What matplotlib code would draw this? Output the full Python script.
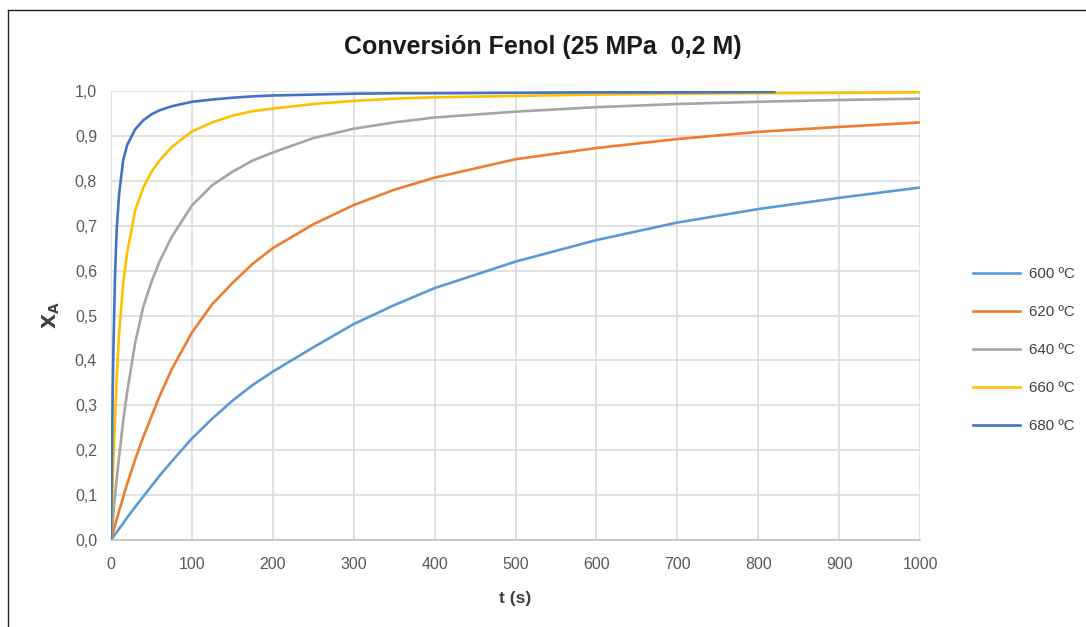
import matplotlib.pyplot as plt
from matplotlib.lines import Line2D
from matplotlib.ticker import FuncFormatter

plt.rcParams['font.family'] = ['Liberation Sans', 'DejaVu Sans']

# data
t = [0, 1, 2, 3, 5, 7, 10, 15, 20, 30, 40, 50, 60, 75, 100, 125, 150, 175, 200,
     250, 300, 350, 400, 500, 600, 700, 800, 900, 1000]
x600 = [0, 0.0025, 0.005, 0.0075, 0.0125, 0.017, 0.025, 0.037, 0.05, 0.074, 0.097, 0.12,
        0.143, 0.175, 0.226, 0.27, 0.31, 0.345, 0.375, 0.429, 0.481, 0.523, 0.561, 0.620,
        0.668, 0.707, 0.737, 0.762, 0.785]
x620 = [0, 0.007, 0.013, 0.02, 0.033, 0.046, 0.065, 0.095, 0.125, 0.18, 0.23, 0.275,
        0.32, 0.38, 0.462, 0.525, 0.572, 0.615, 0.65, 0.703, 0.746, 0.78, 0.807, 0.848,
        0.873, 0.893, 0.909, 0.920, 0.930]
x640 = [0, 0.02, 0.04, 0.06, 0.10, 0.135, 0.185, 0.265, 0.33, 0.44, 0.52, 0.575,
        0.62, 0.675, 0.745, 0.79, 0.82, 0.845, 0.863, 0.895, 0.916, 0.930, 0.941, 0.954,
        0.964, 0.971, 0.976, 0.980, 0.983]
x660 = [0, 0.06, 0.12, 0.18, 0.27, 0.36, 0.46, 0.57, 0.64, 0.735, 0.785, 0.82,
        0.845, 0.875, 0.91, 0.93, 0.945, 0.955, 0.961, 0.971, 0.978, 0.983, 0.986, 0.989,
        0.992, 0.994, 0.995, 0.996, 0.997]
t680 = [0, 1, 2, 3, 5, 7, 10, 15, 20, 30, 40, 50, 60, 75, 100, 125, 150, 175, 200,
        250, 300, 350, 400, 500, 600, 700, 820]
x680 = [0, 0.17, 0.32, 0.43, 0.59, 0.69, 0.77, 0.845, 0.88, 0.915, 0.935, 0.948,
        0.957, 0.966, 0.976, 0.981, 0.985, 0.988, 0.99, 0.992, 0.994, 0.995, 0.995, 0.996,
        0.997, 0.997, 0.998]

labels = ['600 ºC', '620 ºC', '640 ºC', '660 ºC', '680 ºC']
colors = ['#5B9BD5', '#ED7D31', '#A5A5A5', '#FFC000', '#4472C4']
series = [(t, x600), (t, x620), (t, x640), (t, x660), (t680, x680)]

fig = plt.figure(figsize=(10.86, 6.27), dpi=100)
ax = fig.add_axes([111 / 1086, 1 - 540 / 627, 809 / 1086, 449 / 627])

for (tt, xx), lab, col in zip(series, labels, colors):
    ax.plot(tt, xx, color=col, lw=1.9, label=lab, solid_joinstyle='round')

ax.set_xlim(0, 1000)
ax.set_ylim(0, 1.0)
ax.set_xticks(range(0, 1001, 100))
ax.set_yticks([i / 10 for i in range(11)])
ax.yaxis.set_major_formatter(FuncFormatter(lambda v, p: f'{v:.1f}'.replace('.', ',')))
ax.grid(True, color='#d9d9d9', lw=1.1)
ax.set_axisbelow(True)
for s in ['top', 'right', 'left']:
    ax.spines[s].set_visible(False)
ax.spines['bottom'].set_color('#bfbfbf')
ax.spines['bottom'].set_linewidth(1.1)
ax.tick_params(length=0, labelsize=11.5, labelcolor='#595959', pad=12)
ax.tick_params(axis='y', pad=10)

ax.set_xlabel('t (s)', fontsize=12.5, fontweight='bold', color='#404040', labelpad=14)
ax.set_ylabel(r'$\mathbf{X_{A}}$', fontsize=14, color='#404040', labelpad=9)
fig.text(0.5, 1 - 47 / 627, 'Conversión Fenol (25 MPa  0,2 M)', ha='center', va='center',
         fontsize=18, fontweight='bold', color='#1a1a1a')

leg = ax.legend(loc='center left', bbox_to_anchor=(973 / 1086, 1 - 350 / 627),
                bbox_transform=fig.transFigure, frameon=False, fontsize=10.8,
                borderaxespad=0, borderpad=0, handlelength=3.1, labelspacing=1.6,
                handletextpad=0.65)
for txt in leg.get_texts():
    txt.set_color('#404040')

# outer chart frame (left and top edges visible)
fig.add_artist(Line2D([8 / 1086, 8 / 1086], [0, 1 - 10 / 627], color='#222222', lw=1))
fig.add_artist(Line2D([8 / 1086, 1], [1 - 10 / 627, 1 - 10 / 627], color='#222222', lw=1))

fig.savefig('out.png', dpi=100)
